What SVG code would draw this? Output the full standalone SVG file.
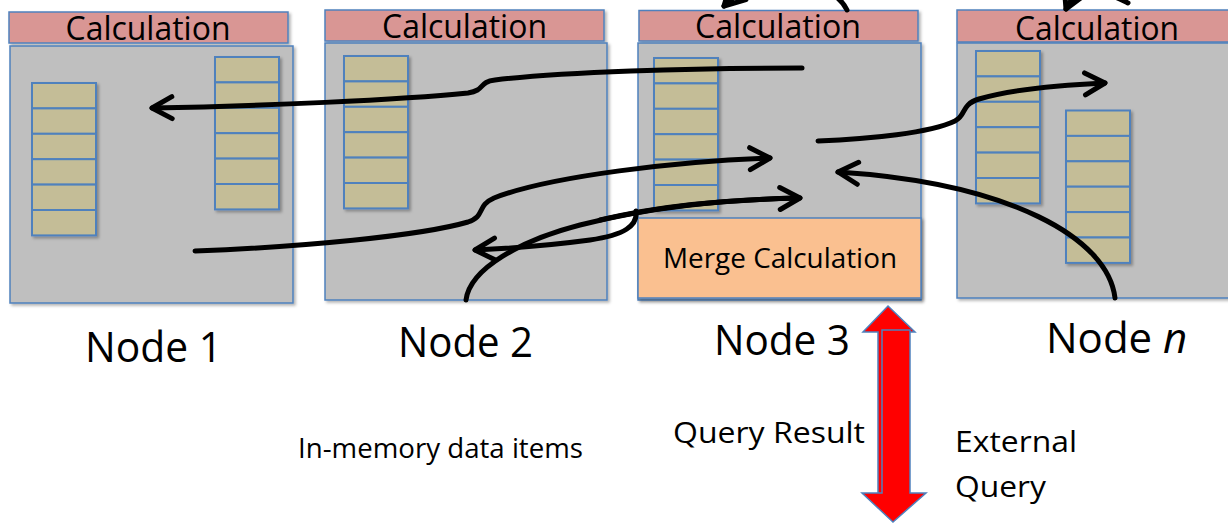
<svg xmlns="http://www.w3.org/2000/svg" xmlns:xlink="http://www.w3.org/1999/xlink" width="1228" height="523" viewBox="0 0 1228 523">
<style>
.calc{fill:#D99694;stroke:#4F81BD;stroke-width:1.5}
.box{fill:#BFBFBF;stroke:#4F81BD;stroke-width:1.5}
.cell{fill:#C4BD97;stroke:#4F81BD;stroke-width:2}
.merge{fill:#FAC090;stroke:#4F81BD;stroke-width:1.5}
.t{font-family:"Open Sans","Liberation Sans",sans-serif;fill:#000}
.con{fill:none;stroke:#000;stroke-width:5;stroke-linecap:round}
.red{fill:#FF0000;stroke:#4F81BD;stroke-width:1.5;stroke-linejoin:miter}
</style>
<defs>
<filter id="sh" x="-10%" y="-10%" width="130%" height="130%">
<feDropShadow dx="2" dy="2" stdDeviation="1.5" flood-color="#000" flood-opacity="0.3"/>
</filter>
<g id="stack">
<rect class="cell" x="0" y="0" width="64" height="25.4"/>
<rect class="cell" x="0" y="25.4" width="64" height="25.4"/>
<rect class="cell" x="0" y="50.8" width="64" height="25.4"/>
<rect class="cell" x="0" y="76.2" width="64" height="25.4"/>
<rect class="cell" x="0" y="101.6" width="64" height="25.4"/>
<rect class="cell" x="0" y="127" width="64" height="25.4"/>
</g>
<marker id="ah" markerUnits="userSpaceOnUse" viewBox="-26 -16 30 32" refX="0" refY="0" markerWidth="30" markerHeight="32" orient="auto" overflow="visible">
<path d="M-20,-11 L0,0 L-20,11" fill="none" stroke="#000" stroke-width="5" stroke-linecap="round" stroke-linejoin="round"/>
</marker>
</defs>
<rect width="1228" height="523" fill="#FFFFFF"/>

<g id="node1">
<rect class="calc" x="9" y="12" width="279" height="31" filter="url(#sh)"/>
<rect class="box" x="10" y="46" width="283" height="257" filter="url(#sh)"/>
<use xlink:href="#stack" x="32" y="83" filter="url(#sh)"/>
<use xlink:href="#stack" x="215" y="57" filter="url(#sh)"/>
<text class="t" x="148" y="40" font-size="33" text-anchor="middle" textLength="165" lengthAdjust="spacingAndGlyphs">Calculation</text>
<text class="t" x="85" y="362" font-size="42" textLength="137" lengthAdjust="spacingAndGlyphs">Node 1</text>
</g>

<g id="node2">
<rect class="calc" x="325" y="10" width="279" height="31" filter="url(#sh)"/>
<rect class="box" x="325" y="43" width="282" height="257" filter="url(#sh)"/>
<use xlink:href="#stack" x="344" y="56" filter="url(#sh)"/>
<text class="t" x="464.5" y="38" font-size="33" text-anchor="middle" textLength="165" lengthAdjust="spacingAndGlyphs">Calculation</text>
<text class="t" x="398" y="357" font-size="42" textLength="135" lengthAdjust="spacingAndGlyphs">Node 2</text>
</g>

<g id="node3">
<rect class="calc" x="639" y="10.5" width="279" height="30.5" filter="url(#sh)"/>
<rect class="box" x="638" y="43" width="283" height="257" filter="url(#sh)"/>
<use xlink:href="#stack" x="654" y="58" filter="url(#sh)"/>
<rect class="merge" x="638" y="218" width="283" height="80" filter="url(#sh)"/>
<text class="t" x="778" y="38" font-size="33" text-anchor="middle" textLength="166" lengthAdjust="spacingAndGlyphs">Calculation</text>
<text class="t" x="663" y="268" font-size="27" textLength="234" lengthAdjust="spacingAndGlyphs">Merge Calculation</text>
<text class="t" x="714" y="355" font-size="42" textLength="136" lengthAdjust="spacingAndGlyphs">Node 3</text>
</g>

<g id="noden">
<rect class="calc" x="957" y="10" width="280" height="32" filter="url(#sh)"/>
<rect class="box" x="957" y="43" width="280" height="255" filter="url(#sh)"/>
<use xlink:href="#stack" x="976" y="51" filter="url(#sh)"/>
<use xlink:href="#stack" x="1066" y="110.5" filter="url(#sh)"/>
<text class="t" x="1097" y="39.5" font-size="33" text-anchor="middle" textLength="164" lengthAdjust="spacingAndGlyphs">Calculation</text>
<text class="t" x="1046" y="353" font-size="42">Node <tspan font-style="italic">n</tspan></text>
</g>

<g id="connectors">
<path class="con" d="M802,68 C690,68 560,72 495,80 C478,82 486,90 468,93 C400,100 260,106 152,108" marker-end="url(#ah)"/>
<path class="con" d="M195,251 C300,247 420,236 468,222 C486,216 476,206 494,198 C550,176 680,161 770,158" marker-end="url(#ah)"/>
<path class="con" d="M466,300 C470,268 522,240 580,225 C650,207 720,200 800,198" marker-end="url(#ah)" stroke-width="5.5"/>
<path class="con" d="M600,220 C660,206 720,200 796,198" stroke-width="7.5"/>
<path class="con" d="M636,211 C638,226 624,235 590,240 C560,244 520,248 475,250" marker-end="url(#ah)"/>
<path class="con" d="M818,141 C870,139 930,133 955,121 C967,115 960,105 979,99 C1010,90 1060,85 1105,83" marker-end="url(#ah)"/>
<path class="con" d="M1115,298 C1108,238 1010,183 838,172" marker-end="url(#ah)"/>
<path class="con" d="M847,10 C832,-22 760,-30 724,6" marker-end="url(#ah)"/>
<path class="con" d="M1128,3 C1110,-6 1080,-22 1066,9" marker-end="url(#ah)"/>
</g>

<g id="query-arrow">
<polygon class="red" points="888,306 915,332 905,332 905,495 878,495 878,332 863,332"/>
<polygon class="red" points="882,330 910,330 910,493 926,493 893,522 862,493 882,493"/>
</g>

<g id="labels">
<text class="t" x="673" y="443" font-size="30" textLength="192" lengthAdjust="spacingAndGlyphs">Query Result</text>
<text class="t" x="955" y="452" font-size="29" textLength="122" lengthAdjust="spacingAndGlyphs">External</text>
<text class="t" x="955" y="497" font-size="29" textLength="91" lengthAdjust="spacingAndGlyphs">Query</text>
<text class="t" x="298" y="458" font-size="27" textLength="285" lengthAdjust="spacingAndGlyphs">In-memory data items</text>
</g>
</svg>
